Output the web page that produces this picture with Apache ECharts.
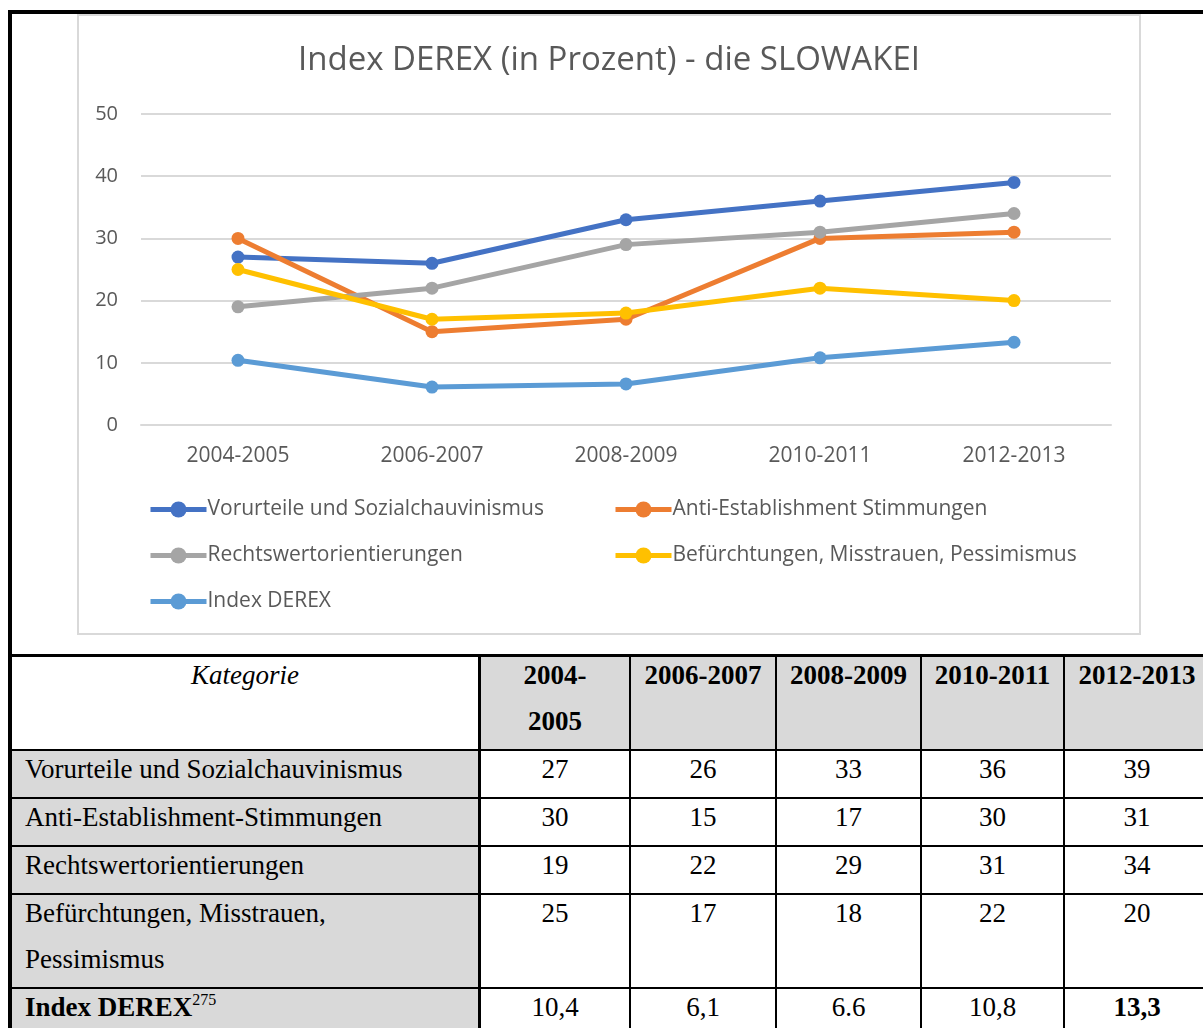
<!DOCTYPE html>
<html>
<head>
<meta charset="utf-8">
<script src="https://cdn.jsdelivr.net/npm/echarts@6/dist/echarts.min.js"></script>
<style>
  html, body { margin: 0; padding: 0; background: #fff; }
  body { width: 1203px; height: 1028px; position: relative; overflow: hidden; }
  .frame-top { position: absolute; left: 8px; top: 10px; width: 1200px; height: 4px; background: #000; }
  .frame-left { position: absolute; left: 8px; top: 10px; width: 4px; height: 1030px; background: #000; }
  #chart { position: absolute; left: 77px; top: 14px; width: 1064px; height: 621px;
           box-sizing: border-box; border: 2px solid #d9d9d9; }
  #tbl { position: absolute; left: 8px; top: 654px; border-collapse: separate; border-spacing: 0;
         border-top: 3px solid #000; border-left: 4px solid #000; table-layout: fixed;
         font-family: "Liberation Serif", "Times New Roman", serif; font-size: 27px; color: #000; }
  #tbl td { box-sizing: border-box; padding: 0; vertical-align: top; text-align: center;
            border-right: 2px solid #000; border-bottom: 2px solid #000; background: #fff; }
  #tbl td.first { border-right: 3px solid #000; text-align: left; padding-left: 13px; }
  #tbl .g { background: #d9d9d9; }
  #tbl .ln { height: 46px; line-height: 36px; white-space: nowrap; }
  sup { font-size: 16px; line-height: 0; vertical-align: 11px; }
</style>
</head>
<body>
<div class="frame-top"></div>
<div class="frame-left"></div>
<div id="chart"></div>
<table id="tbl"></table>
<script>
var periods = ['2004-2005', '2006-2007', '2008-2009', '2010-2011', '2012-2013'];
var vorurteile = [27, 26, 33, 36, 39];
var antiEstablishment = [30, 15, 17, 30, 31];
var rechtswert = [19, 22, 29, 31, 34];
var befuerchtungen = [25, 17, 18, 22, 20];
var indexDerex = [10.4, 6.1, 6.6, 10.8, 13.3];
var yTicks = [0, 10, 20, 30, 40, 50];

// table text as printed (the source mixes comma and dot decimals)
var indexText = ['10,4', '6,1', '6.6', '10,8', '13,3'];

var names = [
  'Vorurteile und Sozialchauvinismus',
  'Anti-Establishment Stimmungen',
  'Rechtswertorientierungen',
  'Befürchtungen, Misstrauen, Pessimismus',
  'Index DEREX'
];
var colors = ['#4472c4', '#ed7d31', '#a5a5a5', '#ffc000', '#5b9bd5'];
var values = [vorurteile, antiEstablishment, rechtswert, befuerchtungen, indexDerex];

var chart = echarts.init(document.getElementById('chart'));
var font = '"Open Sans", "Noto Sans", sans-serif';

var series = names.map(function (n, i) {
  return {
    name: n,
    type: 'line',
    data: values[i],
    symbol: 'circle',
    symbolSize: 13,
    itemStyle: { color: colors[i] },
    lineStyle: { color: colors[i], width: 5 },
    emphasis: { disabled: true },
    animation: false
  };
});

var legendBase = {
  orient: 'vertical',
  top: 478,
  itemWidth: 56,
  itemHeight: 20,
  itemGap: 25,
  lineStyle: { width: 5 },
  textStyle: { color: '#595959', fontSize: 21, fontFamily: font, padding: [0, 0, 0, -4] }
};

chart.setOption({
  title: {
    text: 'Index DEREX (in Prozent) - die SLOWAKEI',
    left: 'center',
    top: 23,
    textStyle: { color: '#595959', fontSize: 33, fontWeight: 'normal', fontFamily: font }
  },
  legend: [
    Object.assign({}, legendBase, { left: 64, data: [names[0], names[2], names[4]] }),
    Object.assign({}, legendBase, { left: 529, data: [names[1], names[3]] })
  ],
  grid: { left: 62, right: 28, top: 98, bottom: 208 },
  xAxis: {
    type: 'category',
    data: periods,
    boundaryGap: true,
    axisLine: { lineStyle: { color: '#d9d9d9', width: 2 } },
    axisTick: { show: false },
    axisLabel: { color: '#595959', fontSize: 21, fontFamily: font, margin: 21 }
  },
  yAxis: {
    type: 'value',
    min: yTicks[0],
    max: yTicks[yTicks.length - 1],
    interval: 10,
    axisLine: { show: false },
    axisTick: { show: false },
    splitLine: { lineStyle: { color: '#d9d9d9', width: 2 } },
    axisLabel: { color: '#595959', fontSize: 20, fontFamily: font, margin: 23 }
  },
  series: series
});

// table below the chart
var widths = [469, 150, 146, 145, 143, 146];
var tbl = document.getElementById('tbl');
tbl.style.width = (widths.reduce(function (a, b) { return a + b; }, 0) + 4) + 'px';
var cg = document.createElement('colgroup');
widths.forEach(function (w) {
  var c = document.createElement('col');
  c.style.width = w + 'px';
  cg.appendChild(c);
});
tbl.appendChild(cg);

function lines(arr) {
  return arr.map(function (t) { return '<div class="ln">' + t + '</div>'; }).join('');
}

var rowLabels = [
  ['Vorurteile und Sozialchauvinismus'],
  ['Anti-Establishment-Stimmungen'],
  ['Rechtswertorientierungen'],
  ['Befürchtungen, Misstrauen,', 'Pessimismus'],
  ['<b>Index DEREX</b><sup>275</sup>']
];
var rowHeights = [48, 48, 48, 92, 50];

var html = '<tr style="height:93px"><td class="first" style="text-align:center;padding-left:0">' +
  lines(['<i>Kategorie</i>']) + '</td>';
periods.forEach(function (p, j) {
  var parts = j === 0 ? ['2004-', '2005'] : [p];
  html += '<td class="g">' + lines(parts.map(function (s) { return '<b>' + s + '</b>'; })) + '</td>';
});
html += '</tr>';

rowLabels.forEach(function (lab, i) {
  html += '<tr style="height:' + rowHeights[i] + 'px"><td class="first g">' + lines(lab) + '</td>';
  for (var j = 0; j < periods.length; j++) {
    var t = i === 4 ? indexText[j] : String(values[i][j]);
    if (i === 4 && j === 4) t = '<b>' + t + '</b>';
    html += '<td>' + lines([t]) + '</td>';
  }
  html += '</tr>';
});
tbl.innerHTML += html;
</script>
</body>
</html>
